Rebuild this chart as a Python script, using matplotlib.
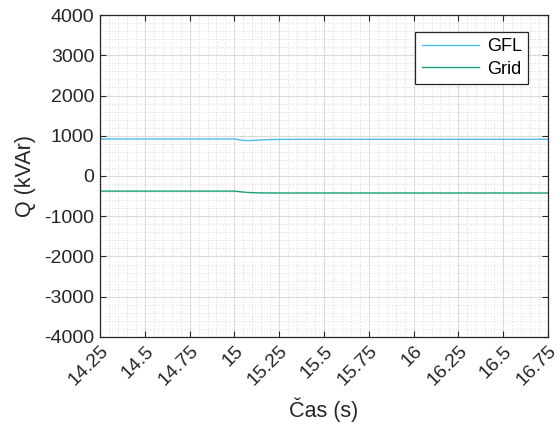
import matplotlib
matplotlib.use("Agg")
import matplotlib.pyplot as plt
from matplotlib.ticker import MultipleLocator

plt.rcParams['font.family'] = ['Liberation Sans', 'DejaVu Sans']
plt.rcParams['axes.unicode_minus'] = False

time = [14.25, 14.9, 15.0, 15.02, 15.05, 15.08, 15.1, 15.15, 15.2, 15.3, 15.5, 16.0, 16.5, 16.75]
gfl = [920, 920, 920, 905, 885, 880, 885, 895, 905, 910, 912, 912, 912, 912]
grid = [-375, -375, -375, -385, -400, -410, -415, -420, -422, -423, -423, -423, -423, -423]

xticks = [14.25, 14.5, 14.75, 15, 15.25, 15.5, 15.75, 16, 16.25, 16.5, 16.75]
xticklabels = ['14.25', '14.5', '14.75', '15', '15.25', '15.5', '15.75', '16', '16.25', '16.5', '16.75']
yticks = [-4000, -3000, -2000, -1000, 0, 1000, 2000, 3000, 4000]

fig = plt.figure(figsize=(5.6, 4.29), dpi=100)
ax = fig.add_axes([0.1786, 0.2145, 0.8, 0.7505])

ax.plot(time, gfl, color='#4dbeee', lw=1.0, label='GFL')
ax.plot(time, grid, color='#1b9e77', lw=1.0, label='Grid')

ax.set_xlim(14.25, 16.75)
ax.set_ylim(-4000, 4000)
ax.set_xticks(xticks)
ax.set_xticklabels(xticklabels, rotation=45, ha='right', va='top', rotation_mode='anchor')
ax.set_yticks(yticks)
ax.xaxis.set_minor_locator(MultipleLocator(0.05))
ax.yaxis.set_minor_locator(MultipleLocator(200))

ax.grid(which='major', color='#dcdcdc', lw=0.8, ls='-')
ax.grid(which='minor', color='#cccccc', lw=0.6, ls=(0, (1, 2.5)))
ax.set_axisbelow(True)

ax.tick_params(which='major', direction='in', top=True, right=True, length=4, labelsize=14,
               colors='#262626', labelcolor='#262626', pad=4)
ax.tick_params(which='minor', length=0)
for s in ax.spines.values():
    s.set_color('#262626')
    s.set_linewidth(0.9)

ax.set_xlabel('Čas (s)', fontsize=15.5, color='#262626', labelpad=6)
ax.set_ylabel('Q (kVAr)', fontsize=15.5, color='#262626', labelpad=6)

leg = ax.legend(loc='upper right', fontsize=13, fancybox=False, framealpha=1, edgecolor='#262626',
                handlelength=3.2, borderaxespad=0, borderpad=0.35, labelspacing=0.3, handletextpad=0.4,
                bbox_to_anchor=(528 / 560, 1 - 32 / 429), bbox_transform=fig.transFigure)
leg.get_frame().set_linewidth(0.9)

fig.savefig('out.png', dpi=100)
